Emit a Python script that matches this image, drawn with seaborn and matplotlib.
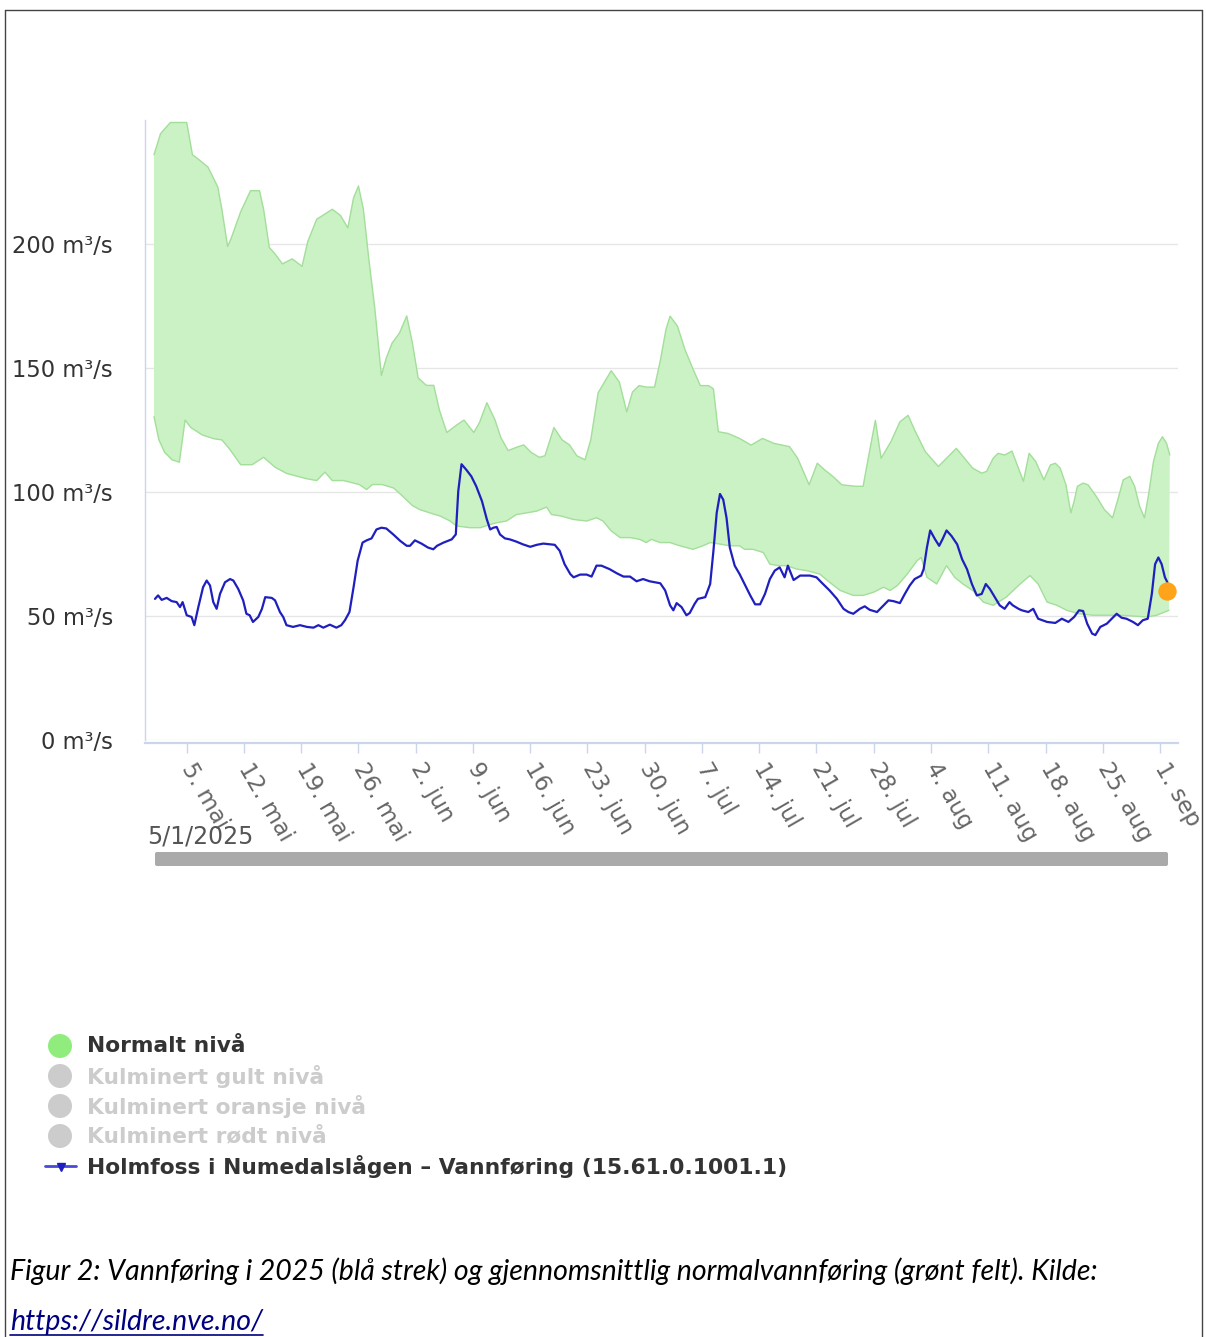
import numpy as np
import pandas as pd
import matplotlib
matplotlib.use('Agg')
import matplotlib.pyplot as plt
import matplotlib.dates as mdates
import seaborn as sns
from matplotlib.patches import Circle, FancyBboxPatch

# dager etter 1. mai 2025
start = pd.Timestamp('2025-05-01')

# ovre kant av normalfeltet
upper_days = [0, 0.8, 2, 4, 4.7, 5.5, 6.6, 7.8, 8.3, 9, 9.4, 10.6, 11.8, 12.9, 13.4, 14.1, 14.8, 15.7,
              16.9, 18.1, 18.8, 19.9, 21.8, 22.8, 23.7, 24.4, 25, 25.6, 26.3, 27, 27.8, 28.4, 29.1, 30,
              30.9, 31.6, 32.3, 33.3, 34.2, 34.9, 35.8, 37, 37.9, 39.1, 39.8, 40.7, 41.7, 42.4, 43.3,
              44.3, 45.2, 46.1, 47.1, 47.8, 48.9, 49.9, 50.8, 51.7, 52.7, 53.4, 54.3, 55.9, 56.9, 57.8,
              58.5, 59.3, 60.2, 61.2, 61.9, 62.6, 63.1, 64, 64.9, 65.9, 66.8, 67.8, 68.4, 69, 70.2, 71.6,
              73, 74.4, 75.8, 77.7, 78.7, 79.4, 80.1, 81.1, 82, 83, 84.1, 85.8, 86.7, 87.4, 88.2, 88.9,
              90.1, 91.2, 92.2, 93.1, 94.3, 95.9, 97.1, 98.1, 99.1, 100.1, 101.2, 101.8, 102.6, 103.2,
              104, 104.9, 105.7, 106.3, 107, 107.8, 108.8, 109.6, 110.2, 110.8, 111.5, 112.1, 112.5,
              112.9, 113.6, 114.2, 115.2, 116.2, 117.2, 117.9, 118.5, 119.3, 119.9, 120.5, 121.1, 121.6,
              122.2, 122.8, 123.3, 123.8, 124.2]
upper_vals = [236, 244.5, 249, 249, 236, 234, 231, 223, 214, 199, 202, 213, 221.5, 221.5, 214, 198.6, 196, 192,
              194, 191, 201, 210, 214, 211.5, 206.5, 218.6, 223.4, 214, 193, 174, 147, 154, 160, 164,
              171, 160, 146, 143, 143, 133, 124, 127, 129, 124, 128, 136, 129, 122, 116.7,
              118, 119, 116, 114, 114.6, 126, 121, 119, 114.6, 113, 121, 140, 148.9, 144.3, 132.3,
              140.3, 142.9, 142.3, 142.3, 152.9, 165.6, 170.9, 166.9, 157.6, 149.6, 142.9, 142.9, 141.6, 124.3, 123.6, 121.6,
              118.9, 121.6, 119.6, 118.3, 113.6, 108.3, 102.9, 111.6, 108.9, 106.3, 102.9, 102.3, 102.3, 114.9, 128.9, 113.6,
              120.3, 128.3, 130.9, 124.3, 116.3, 110.3, 114.3, 117.6, 113.6, 109.6, 107.6, 108.3, 113.6, 115.6,
              114.9, 116.5, 109.6, 104.3, 115.6, 112.3, 104.9, 110.9, 111.6, 109.6, 102.9, 91.6, 96.3,
              102.3, 103.6, 102.9, 98.3, 92.9, 89.6, 97.6, 104.9, 106.3, 102.3, 94.3, 89.6, 98.9,
              112.3, 119.6, 122.3, 119.6, 114.9]

# nedre kant av normalfeltet
lower_days = [0, 0.6, 1.3, 2.2, 3.1, 3.8, 4.5, 5.9, 7.3, 8.3, 9.2, 10.6, 12, 13.4, 14.8, 16.2, 18.6, 19.9,
              20.9, 21.8, 23.2, 25.1, 26, 26.7, 27.9, 29.3, 30.5, 31.6, 32.5, 33.7, 35, 36.2, 37, 38.6,
              39.9, 41.1, 41.9, 43.1, 44.3, 45.6, 46.8, 48, 48.6, 49.8, 51.3, 52.9, 54.1, 54.9, 55.9, 57,
              58.2, 59.4, 60.2, 60.8, 61.9, 63.1, 64.3, 65.9, 67.1, 68, 69.2, 70.4, 71.6, 72.2, 73.2,
              74.5, 75.3, 76.3, 77.3, 78.6, 79.8, 81.4, 82.6, 83.9, 85.5, 86.7, 88, 89.2, 90, 90.9, 92.1,
              93.3, 93.8, 94.5, 95.7, 96.9, 97.9, 98.9, 100.1, 101.4, 102.6, 104.2, 105.9, 107.1, 108.1,
              109.2, 110.4, 111.6, 113.1, 114.8, 116.4, 118.1, 120.1, 121.4, 122.6, 124.1]
lower_vals = [130.4, 121, 116, 113, 112, 129, 126, 123, 121.5, 121, 117.5, 111, 111, 114, 110, 107.5, 105.4, 104.6,
              108, 104.6, 104.6, 103, 101, 103, 103, 101.6, 98, 94.5, 92.9, 91.6, 90.3, 88.3, 86.3, 85.6,
              85.6, 86.9, 87.6, 88.3, 90.9, 91.6, 92.3, 93.9, 90.9, 90.3, 88.9, 88.3, 89.6, 88.3, 84.3, 81.6,
              81.6, 80.9, 79.6, 80.9, 79.6, 79.6, 78.3, 76.9, 78.3, 79.6, 79, 78.3, 78.3, 76.9, 76.9,
              75.6, 70.9, 70.3, 70.3, 68.9, 68.3, 66.9, 63.6, 60.3, 58.3, 58.3, 59.6, 61.6, 60.3, 62.3, 66.9,
              72.3, 73.6, 65.6, 62.9, 70.3, 65.6, 62.9, 60.3, 55.6, 54.3, 57.6, 62.9, 66.3, 62.9,
              55.6, 54.3, 52.3, 50.9, 50.3, 50.3, 50.3, 49.9, 49.6, 50.3, 52.3]

# vannforing 2025 (bla strek)
flow_days = [0.12, 0.5, 0.94, 1.55, 2.16, 2.77, 3.18, 3.5, 4.0, 4.6, 4.93, 5.42, 6.0, 6.44, 6.85, 7.25, 7.66,
             8.07, 8.68, 9.3, 9.7, 10.3, 10.9, 11.3, 11.7, 12.1, 12.75, 13.2, 13.6, 14.4, 14.8, 15.4, 15.8,
             16.2, 17.0, 17.85, 18.7, 19.5, 20.1, 20.7, 21.5, 22.3, 22.9, 23.35, 23.9, 24.4, 24.9, 25.5, 26,
             26.6, 27.2, 27.8, 28.4, 29.25, 30.1, 30.9, 31.3, 31.9, 32.7, 33.5, 34.15, 34.6, 35.4, 36.4, 36.9,
             37.2, 37.6, 38.2, 38.8, 39.4, 40.1, 40.7, 41.1, 41.5, 41.9, 42.3, 42.9, 43.5, 44.3, 45.1, 46,
             46.8, 47.6, 48.4, 49, 49.6, 50.2, 50.9, 51.3, 52.1, 52.9, 53.5, 54.1, 54.7, 55.7, 56.6, 57.4,
             58.2, 59, 59.8, 60.6, 61.9, 62.5, 63.1, 63.5, 63.9, 64.5, 65.1, 65.5, 66.1, 66.5, 67.4, 68,
             68.4, 68.8, 69.2, 69.6, 70.0, 70.4, 71.0, 71.6, 72.2, 72.9, 73.5, 74.1, 74.7, 75.3, 75.9, 76.5,
             77.1, 77.5, 78.2, 79, 80.2, 81, 81.8, 82.6, 83.5, 84.3, 84.9, 85.5, 86.3, 86.9, 87.5, 88.4, 89,
             89.8, 90.4, 91.2, 91.8, 92.4, 93.0, 93.8, 94.1, 94.5, 94.9, 95.5, 96, 96.4, 96.9, 97.5, 98.2,
             98.8, 99.4, 100, 100.6, 101.2, 101.7, 102.2, 102.8, 103.4, 104, 104.6, 105, 105.7, 106.1,
             106.9, 107.5, 108.1, 109.2, 110.2, 111, 111.8, 112.5, 113.1, 113.6, 114.1, 114.7, 115.1,
             115.7, 116.5, 117.1, 117.7, 118.3, 118.9, 119.7, 120.3, 120.9, 121.5, 122, 122.4, 122.8,
             123.2, 123.6, 123.9]
flow_vals = [56.9, 58.3, 56.5, 57.3, 56, 55.6, 53.6, 55.6, 50.3, 49.6, 46.3, 53.6, 61.6, 64.3, 62.3, 55.6, 52.9,
             58.9, 63.6, 64.9, 64.3, 60.9, 56.3, 50.9, 50.3, 47.6, 49.6, 52.9, 57.6, 57.3, 56.3, 51.6, 49.6,
             46.3, 45.6, 46.3, 45.6, 45.3, 46.3, 45.3, 46.5, 45.3, 46.3, 48.3, 51.6, 61.6, 72.3, 79.6, 80.5,
             81.3, 84.9, 85.6, 85.3, 82.9, 80.3, 78.3, 78.3, 80.5, 79.2, 77.6, 76.9, 78.3, 79.6, 80.9, 82.9,
             100.3, 111.2, 108.9, 106.3, 102.3, 96.3, 88.9, 84.9, 85.6, 85.9, 82.9, 81.3, 80.9, 80, 78.9, 77.9,
             78.7, 79.2, 78.9, 78.7, 76.3, 70.9, 66.9, 65.6, 66.7, 66.7, 65.9, 70.3, 70.3, 68.9, 67.2, 65.9,
             65.9, 64, 64.9, 64, 63.2, 60.3, 54.3, 52.3, 55.2, 53.6, 50.3, 51.2, 54.9, 56.9, 57.6, 62.9,
             76.3, 91.6, 99.2, 96.9, 89.6, 77.6, 70.3, 66.9, 62.9, 58.3, 54.7, 54.7, 58.9, 64.9, 68.3, 69.6,
             65.6, 70.3, 64.5, 66.3, 66.3, 65.6, 62.9, 60.3, 56.9, 52.9, 51.6, 50.9, 52.9, 53.9, 52.5, 51.6, 53.6,
             56.3, 56, 55.2, 58.9, 62.3, 64.9, 66.3, 68.9, 77.6, 84.5, 80.9, 78.3, 80.9, 84.5, 82.3, 78.9,
             72.9, 68.9, 62.9, 58.3, 58.9, 62.9, 60.9, 57.6, 54.3, 52.9, 55.6, 54.3, 52.9, 52.3,
             51.6, 52.9, 48.9, 47.6, 47.2, 48.9, 47.6, 49.6, 52.3, 52, 46.9, 42.9, 42.3,
             45.6, 46.9, 48.9, 50.9, 49.3, 48.9, 47.6, 46.3, 48.3, 48.9, 58.9, 70.9, 73.6,
             70.9, 65.6, 63.6]

# siste observasjon (oransje punkt)
last_day = 123.8
last_val = 60

y_ticks = [0, 50, 100, 150, 200]
tick_labels = ['5. mai', '12. mai', '19. mai', '26. mai', '2. jun', '9. jun', '16. jun', '23. jun',
               '30. jun', '7. jul', '14. jul', '21. jul', '28. jul', '4. aug', '11. aug', '18. aug',
               '25. aug', '1. sep']
tick_dates = pd.date_range('2025-05-05', periods=len(tick_labels), freq='7D')

legend_items = ['Normalt nivå', 'Kulminert gult nivå', 'Kulminert oransje nivå', 'Kulminert rødt nivå']
series_name = 'Holmfoss i Numedalslågen – Vannføring (15.61.0.1001.1)'
caption = 'Figur 2: Vannføring i 2025 (blå strek) og gjennomsnittlig normalvannføring (grønt felt). Kilde:'
link = 'https://sildre.nve.no/'


def to_dates(days):
    return start + pd.to_timedelta(np.array(days), unit='D')


sns.set_theme(style='white')
plt.rcParams['font.family'] = ['DejaVu Sans']

W, H = 1206, 1337
fig = plt.figure(figsize=(W / 100, H / 100), dpi=100)
ax = fig.add_axes([145 / W, 1 - 740 / H, (1178 - 145) / W, (740 - 120) / H])

df = pd.DataFrame({'dato': to_dates(flow_days), 'vannforing': flow_vals})
sns.lineplot(data=df, x='dato', y='vannforing', ax=ax, color='#1f1fbf', lw=1.6,
             estimator=None, sort=False, zorder=3)

# normalfelt som polygon
up_x = mdates.date2num(to_dates(upper_days).to_pydatetime())
lo_x = mdates.date2num(to_dates(lower_days).to_pydatetime())
band_x = np.concatenate([up_x, lo_x[::-1]])
band_y = np.concatenate([upper_vals, lower_vals[::-1]])
ax.fill(band_x, band_y, color='#caf2c4', lw=0, zorder=1)
ax.plot(up_x, upper_vals, color='#a3de9a', lw=1, zorder=2)
ax.plot(lo_x, lower_vals, color='#a3de9a', lw=1, zorder=2)

ax.scatter(to_dates([last_day]), [last_val], s=175, color='#ffa31a', zorder=5, lw=0)

ax.set_xlim(start - pd.Timedelta(days=1.1), start + pd.Timedelta(days=125.2))
ax.set_ylim(0, 250)
ax.set_yticks(y_ticks)
ax.set_yticklabels([f'{v} m³/s' for v in y_ticks])
ax.set_xticks(tick_dates)
ax.set_xticklabels(tick_labels)
ax.set_xlabel('')
ax.set_ylabel('')
ax.yaxis.grid(True, color='#e6e6e6', lw=1)
ax.xaxis.grid(False)
ax.set_axisbelow(True)
for s in ['top', 'right']:
    ax.spines[s].set_visible(False)
ax.spines['left'].set_color('#ccd6eb')
ax.spines['left'].set_linewidth(1)
ax.spines['bottom'].set_color('#ccd6eb')
ax.spines['bottom'].set_linewidth(1.6)
ax.spines['bottom'].set_position(('outward', 2))
ax.tick_params(axis='y', length=0, pad=23, labelsize=16.3, labelcolor='#333333')
ax.tick_params(axis='x', length=7, width=1, color='#ccd6eb', pad=8.5, labelsize=16.5,
               labelcolor='#666666', bottom=True)
for lbl in ax.get_xticklabels():
    lbl.set_rotation(-60)
    lbl.set_ha('left')
    lbl.set_va('center')
    lbl.set_rotation_mode('anchor')

# overlay i pikselkoordinater: ramme, rullefelt, legende, tekst
ov = fig.add_axes([0, 0, 1, 1])
ov.set_xlim(0, W)
ov.set_ylim(H, 0)
ov.axis('off')
ov.patch.set_alpha(0)

ov.plot([5, 5], [10, H], color='#444444', lw=1)
ov.plot([1202, 1202], [10, H], color='#444444', lw=1)
ov.plot([5, 1202], [10, 10], color='#444444', lw=1)

ov.add_patch(FancyBboxPatch((155, 852), 1013, 14, boxstyle='round,pad=0,rounding_size=2',
                            color='#aaaaaa', lw=0))
ov.text(147, 836, '5/1/2025', fontsize=17, color='#555555', va='center', ha='left')

leg_colors = ['#90ed7d', '#cccccc', '#cccccc', '#cccccc']
txt_colors = ['#333333', '#cccccc', '#cccccc', '#cccccc']
leg_y = [1046, 1076, 1106, 1136]
for name, c, tc, yy in zip(legend_items, leg_colors, txt_colors, leg_y):
    ov.add_patch(Circle((60, yy), 12, color=c, lw=0))
    ov.text(87, yy, name, fontsize=15.7, fontweight='bold', color=tc, va='center', ha='left')
ov.plot([45, 76], [1166, 1166], color='#4a4ad8', lw=2)
ov.plot([61], [1167], marker='v', ms=6, color='#1f1fbf', lw=0)
ov.text(87, 1166, series_name, fontsize=15.7, fontweight='bold', color='#333333', va='center', ha='left')

ov.text(10, 1271, caption, family=['Lato', 'DejaVu Sans'], style='italic', fontsize=20.5,
        color='#000000', va='center', ha='left')
lt = ov.text(10, 1322, link, family=['Lato', 'DejaVu Sans'], style='italic', fontsize=20.5,
             color='#000080', va='center', ha='left')
fig.canvas.draw()
bb = lt.get_window_extent()
ov.plot([bb.x0, bb.x1], [1335, 1335], color='#000080', lw=1.2)

fig.savefig('out.png', dpi=100)
